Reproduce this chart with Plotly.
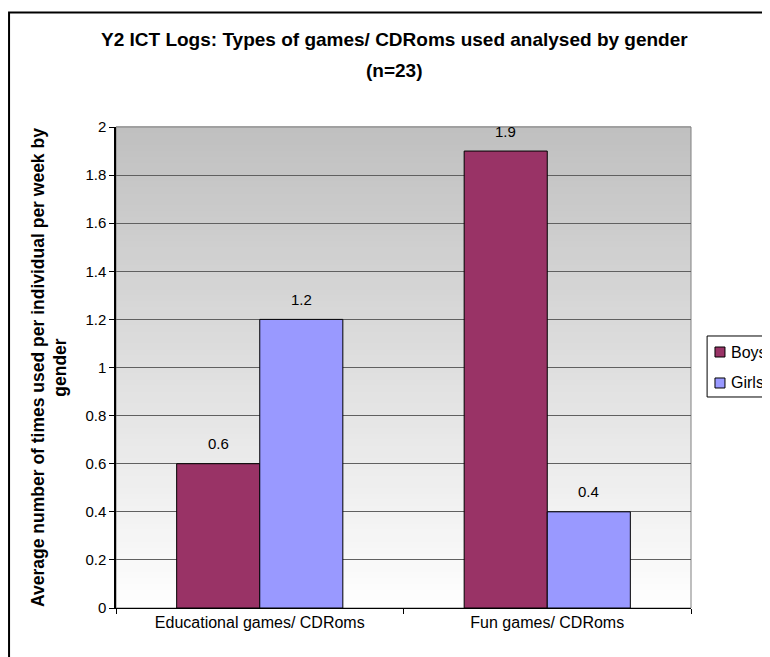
import plotly.graph_objects as go

categories = ["Educational games/ CDRoms", "Fun games/ CDRoms"]
series_names = ["Boys", "Girls"]
boys = [0.6, 1.9]
girls = [1.2, 0.4]
series_colors = ["#993366", "#9999FF"]
y_ticks = [0, 0.2, 0.4, 0.6, 0.8, 1, 1.2, 1.4, 1.6, 1.8, 2]
y_tick_labels = ["0", "0.2", "0.4", "0.6", "0.8", "1", "1.2", "1.4", "1.6", "1.8", "2"]
title_line1 = "Y2 ICT Logs: Types of games/ CDRoms used analysed by gender"
title_line2 = "(n=23)"
y_title = "Average number of times used per individual per week by<br>gender"

FONT = "Liberation Sans, Arial, sans-serif"

fig = go.Figure()
for name, vals, col in zip(series_names, [boys, girls], series_colors):
    fig.add_trace(go.Bar(
        x=categories, y=vals, name=name, showlegend=False,
        marker=dict(color=col, line=dict(color="#000000", width=1)),
    ))

shapes = []
# gradient background (grey top -> white bottom)
n = 80
for i in range(n):
    t = i / n
    c = int(192 + (255 - 192) * (1 - (i + 0.5) / n))
    shapes.append(dict(type="rect", xref="paper", yref="paper",
                       x0=0, x1=1, y0=t, y1=t + 1.0 / n + 0.002,
                       fillcolor=f"rgb({c},{c},{c})", line=dict(width=0),
                       layer="below"))
# plot-area border (grey)
shapes.append(dict(type="rect", xref="paper", yref="paper", x0=0, x1=1, y0=0, y1=1,
                   line=dict(color="#808080", width=1), layer="below"))
# outer chart frame
shapes.append(dict(type="rect", xref="paper", yref="paper",
                   x0=-0.186, x1=1.2, y0=-0.15, y1=1.238,
                   line=dict(color="#000000", width=2), fillcolor="rgba(0,0,0,0)",
                   layer="above"))
# custom legend box
shapes.append(dict(type="rect", xref="paper", yref="paper",
                   x0=1.028, x1=1.2, y0=0.4387, y1=0.5655,
                   line=dict(color="#000000", width=1), fillcolor="white", layer="above"))
leg_sq_y = [(0.5218, 0.5426), (0.4574, 0.4782)]
leg_txt_y = [0.5322, 0.4678]
annotations = []
for name, col, (y0, y1), ty in zip(series_names, series_colors, leg_sq_y, leg_txt_y):
    shapes.append(dict(type="rect", xref="paper", yref="paper",
                       x0=1.0417, x1=1.0591, y0=y0, y1=y1,
                       line=dict(color="#000000", width=1), fillcolor=col, layer="above"))
    annotations.append(dict(x=1.0661, y=ty, xref="paper", yref="paper", text=name,
                            showarrow=False, xanchor="left", yanchor="middle",
                            font=dict(family=FONT, size=16, color="#000000")))

offsets = [-0.1445, 0.1445]
for k, vals in enumerate([boys, girls]):
    for i, v in enumerate(vals):
        annotations.append(dict(x=i + offsets[k], y=v, xref="x", yref="y",
                                text=f"{v:g}", showarrow=False, yshift=20,
                                font=dict(family=FONT, size=15, color="#000000")))

# title lines
annotations.append(dict(x=0.4852, y=1.181, xref="paper", yref="paper",
                        text=f"<b>{title_line1}</b>", showarrow=False,
                        xanchor="center", yanchor="middle",
                        font=dict(family=FONT, size=19, color="#000000")))
annotations.append(dict(x=0.4852, y=1.1185, xref="paper", yref="paper",
                        text=f"<b>{title_line2}</b>", showarrow=False,
                        xanchor="center", yanchor="middle",
                        font=dict(family=FONT, size=19, color="#000000")))

fig.update_layout(
    width=762, height=649,
    margin=dict(l=108, r=79, t=119, b=49, autoexpand=False),
    paper_bgcolor="white", plot_bgcolor="rgba(0,0,0,0)",
    barmode="group", bargap=0.422, bargroupgap=0,
    font=dict(family=FONT, color="#000000"),
    shapes=shapes, annotations=annotations,
    showlegend=False,
)
fig.update_xaxes(type="category", showgrid=False, showline=True, linecolor="#000000", linewidth=1,
                 ticks="outside", tickson="boundaries", ticklen=5, tickcolor="#000000",
                 tickfont=dict(family=FONT, size=16, color="#000000"), zeroline=False,
                 automargin=False)
fig.update_yaxes(range=[0, 2], tickvals=y_ticks, ticktext=y_tick_labels,
                 showgrid=True, gridcolor="#606060", gridwidth=1,
                 showline=True, linecolor="#000000", linewidth=1.5,
                 ticks="outside", ticklen=5, tickcolor="#000000",
                 tickfont=dict(family=FONT, size=15, color="#000000"), zeroline=False,
                 automargin=False,
                 title=dict(text=f"<b>{y_title}</b>",
                            font=dict(family=FONT, size=17.5, color="#000000"), standoff=14))

fig.write_html("out.html")
